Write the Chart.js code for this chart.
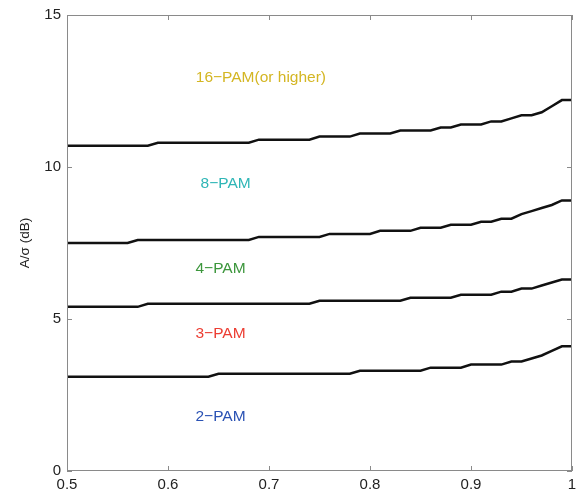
<!DOCTYPE html>
<html>
<head>
<meta charset="utf-8">
<script src="https://cdn.jsdelivr.net/npm/chart.js@4/dist/chart.umd.min.js"></script>
<style>
    html, body { margin: 0; padding: 0; background: #fff; }
    #wrap { width: 583px; height: 489px; }
</style>
</head>
<body>
<div id="wrap"><canvas id="chart" width="583" height="489"></canvas></div>
<script>
// x values (normalised axis, 0.5 .. 1)
const xValues = [
    0.50, 0.51, 0.52, 0.53, 0.54, 0.55, 0.56, 0.57, 0.58, 0.59,
    0.60, 0.61, 0.62, 0.63, 0.64, 0.65, 0.66, 0.67, 0.68, 0.69,
    0.70, 0.71, 0.72, 0.73, 0.74, 0.75, 0.76, 0.77, 0.78, 0.79,
    0.80, 0.81, 0.82, 0.83, 0.84, 0.85, 0.86, 0.87, 0.88, 0.89,
    0.90, 0.91, 0.92, 0.93, 0.94, 0.95, 0.96, 0.97, 0.98, 0.99,
    1.00
];

// boundary 2-PAM / 3-PAM
const bound23 = [
    3.1, 3.1, 3.1, 3.1, 3.1, 3.1, 3.1, 3.1, 3.1, 3.1,
    3.1, 3.1, 3.1, 3.1, 3.1, 3.2, 3.2, 3.2, 3.2, 3.2,
    3.2, 3.2, 3.2, 3.2, 3.2, 3.2, 3.2, 3.2, 3.2, 3.3,
    3.3, 3.3, 3.3, 3.3, 3.3, 3.3, 3.4, 3.4, 3.4, 3.4,
    3.5, 3.5, 3.5, 3.5, 3.6, 3.6, 3.7, 3.8, 3.95, 4.1,
    4.1
];

// boundary 3-PAM / 4-PAM
const bound34 = [
    5.4, 5.4, 5.4, 5.4, 5.4, 5.4, 5.4, 5.4, 5.5, 5.5,
    5.5, 5.5, 5.5, 5.5, 5.5, 5.5, 5.5, 5.5, 5.5, 5.5,
    5.5, 5.5, 5.5, 5.5, 5.5, 5.6, 5.6, 5.6, 5.6, 5.6,
    5.6, 5.6, 5.6, 5.6, 5.7, 5.7, 5.7, 5.7, 5.7, 5.8,
    5.8, 5.8, 5.8, 5.9, 5.9, 6.0, 6.0, 6.1, 6.2, 6.3,
    6.3
];

// boundary 4-PAM / 8-PAM
const bound48 = [
    7.5, 7.5, 7.5, 7.5, 7.5, 7.5, 7.5, 7.6, 7.6, 7.6,
    7.6, 7.6, 7.6, 7.6, 7.6, 7.6, 7.6, 7.6, 7.6, 7.7,
    7.7, 7.7, 7.7, 7.7, 7.7, 7.7, 7.8, 7.8, 7.8, 7.8,
    7.8, 7.9, 7.9, 7.9, 7.9, 8.0, 8.0, 8.0, 8.1, 8.1,
    8.1, 8.2, 8.2, 8.3, 8.3, 8.45, 8.55, 8.65, 8.75, 8.9,
    8.9
];

// boundary 8-PAM / 16-PAM
const bound816 = [
    10.7, 10.7, 10.7, 10.7, 10.7, 10.7, 10.7, 10.7, 10.7, 10.8,
    10.8, 10.8, 10.8, 10.8, 10.8, 10.8, 10.8, 10.8, 10.8, 10.9,
    10.9, 10.9, 10.9, 10.9, 10.9, 11.0, 11.0, 11.0, 11.0, 11.1,
    11.1, 11.1, 11.1, 11.2, 11.2, 11.2, 11.2, 11.3, 11.3, 11.4,
    11.4, 11.4, 11.5, 11.5, 11.6, 11.7, 11.7, 11.8, 12.0, 12.2,
    12.2
];

// region labels (position in data units)
const regionNames = ['16\u2212PAM(or higher)', '8\u2212PAM', '4\u2212PAM', '3\u2212PAM', '2\u2212PAM'];
const regionX = [0.692, 0.657, 0.652, 0.652, 0.652];
const regionY = [12.95, 9.45, 6.66, 4.5, 1.8];
const regionColors = ['#d4b623', '#2fb6b6', '#3c963c', '#ec3d32', '#2a52b4'];

const xTicks = [0.5, 0.6, 0.7, 0.8, 0.9, 1.0];
const yTicks = [0, 5, 10, 15];

const FONT = "'Liberation Sans', Arial, sans-serif";
const AXIS_GREY = '#8a8a8a';

function toPoints(ys) {
    return xValues.map((x, i) => ({ x: x, y: ys[i] }));
}

// box round the plot with small ticks pointing inwards, plus region names
const boxPlugin = {
    id: 'boxTicks',
    afterDraw(chart) {
        const { ctx, chartArea: a, scales } = chart;
        ctx.save();
        ctx.strokeStyle = AXIS_GREY;
        ctx.lineWidth = 1;
        ctx.strokeRect(a.left + 0.5, a.top + 0.5, a.right - a.left - 1, a.bottom - a.top - 1);
        ctx.beginPath();
        xTicks.forEach(v => {
            const px = Math.round(scales.x.getPixelForValue(v)) + 0.5;
            ctx.moveTo(px, a.bottom); ctx.lineTo(px, a.bottom - 5);
            ctx.moveTo(px, a.top); ctx.lineTo(px, a.top + 5);
        });
        yTicks.forEach(v => {
            const py = Math.round(scales.y.getPixelForValue(v)) + 0.5;
            ctx.moveTo(a.left, py); ctx.lineTo(a.left + 5, py);
            ctx.moveTo(a.right, py); ctx.lineTo(a.right - 5, py);
        });
        ctx.stroke();
        ctx.restore();
    },
    afterDatasetsDraw(chart) {
        const { ctx, scales } = chart;
        ctx.save();
        ctx.font = '15.5px ' + FONT;
        ctx.textAlign = 'center';
        ctx.textBaseline = 'middle';
        regionNames.forEach((name, i) => {
            ctx.fillStyle = regionColors[i];
            ctx.fillText(name, scales.x.getPixelForValue(regionX[i]), scales.y.getPixelForValue(regionY[i]));
        });
        ctx.restore();
    }
};

const lineStyle = {
    borderColor: '#111111',
    borderWidth: 2.5,
    pointRadius: 0,
    tension: 0,
    fill: false
};

const ctx = document.getElementById('chart').getContext('2d');
const chart = new Chart(ctx, {
    type: 'line',
    data: {
        datasets: [
            Object.assign({ label: '2/3', data: toPoints(bound23) }, lineStyle),
            Object.assign({ label: '3/4', data: toPoints(bound34) }, lineStyle),
            Object.assign({ label: '4/8', data: toPoints(bound48) }, lineStyle),
            Object.assign({ label: '8/16', data: toPoints(bound816) }, lineStyle)
        ]
    },
    options: {
        responsive: false,
        animation: false,
        layout: { padding: { left: 13, top: 14, right: 11, bottom: 0 } },
        plugins: {
            legend: { display: false },
            tooltip: { enabled: false }
        },
        scales: {
            x: {
                type: 'linear',
                min: 0.5,
                max: 1,
                grid: { display: false, drawTicks: false, tickLength: 0 },
                border: { display: false },
                afterFit: s => { s.height = 18; },
                afterBuildTicks: s => { s.ticks = xTicks.map(v => ({ value: v })); },
                ticks: {
                    padding: 5,
                    maxRotation: 0,
                    color: '#222',
                    font: { family: FONT, size: 15 },
                    callback: v => Number(v.toFixed(1)).toString()
                }
            },
            y: {
                min: 0,
                max: 15,
                grid: { display: false, drawTicks: false, tickLength: 0 },
                border: { display: false },
                afterFit: s => { s.width = 54; },
                afterBuildTicks: s => { s.ticks = yTicks.map(v => ({ value: v })); },
                title: {
                    display: true,
                    text: 'A/\u03c3 (dB)',
                    color: '#222',
                    font: { family: FONT, size: 13.5 }
                },
                ticks: {
                    padding: 6,
                    color: '#222',
                    font: { family: FONT, size: 15 }
                }
            }
        }
    },
    plugins: [boxPlugin]
});
</script>
</body>
</html>
